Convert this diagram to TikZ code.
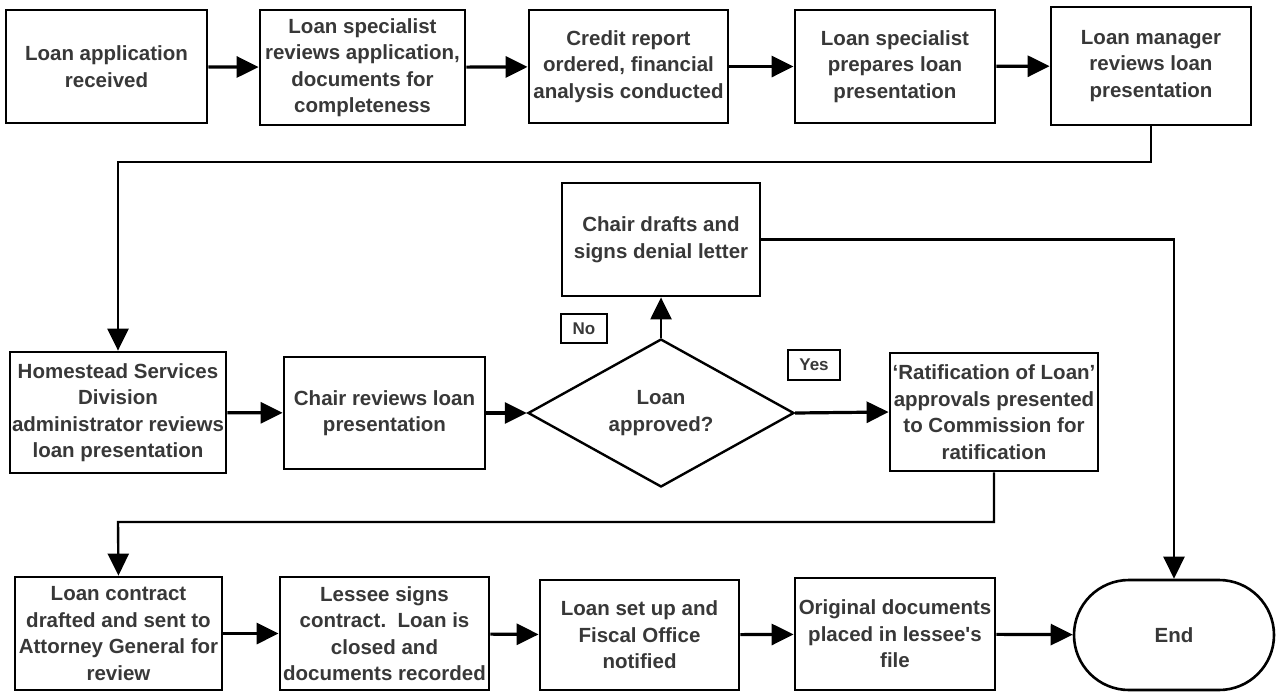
\documentclass[tikz,border=0pt]{standalone}
\usepackage{fontspec}
\setmainfont{Liberation Sans}
\usepackage{tikz}
\usetikzlibrary{shapes.geometric, shapes.misc, arrows.meta, calc, positioning}
\definecolor{textgray}{HTML}{383838}
\tikzstyle{block} = [rectangle, line width=2.8pt, draw=black, text=textgray, align=center, inner sep=0pt, font=\bfseries\fontsize{20.5}{26.5}\selectfont]
\tikzstyle{decision} = [diamond, aspect=1.8, line width=2.4pt, draw=black, text=textgray, align=center, inner sep=0pt, font=\bfseries\fontsize{20.5}{26.5}\selectfont]
\tikzstyle{terminal} = [rounded rectangle, line width=2.6pt, draw=black, text=textgray, align=center, inner sep=0pt, font=\bfseries\fontsize{20.5}{26.5}\selectfont]
\tikzstyle{tag} = [rectangle, line width=2.2pt, draw=black, text=textgray, inner sep=0pt, font=\bfseries\fontsize{17}{20}\selectfont]
\tikzstyle{arrow} = [line width=3.2pt, -{Triangle[length=22pt, width=21pt]}]
\tikzstyle{route} = [line width=2.4pt, -{Triangle[length=22pt, width=21pt]}]

\begin{document}
\begin{tikzpicture}[x=1pt, y=-1pt]
	\useasboundingbox (0,0) rectangle (1277,691);
	\node (Application) [block, minimum width=201pt, minimum height=113pt] at (106.5,66.5) {Loan application\\received};
	\node (SpecialistReview) [block, minimum width=205pt, minimum height=115pt] at (362.5,67.5) {Loan specialist\\reviews application,\\documents for\\completeness};
	\node (CreditReport) [block, minimum width=199pt, minimum height=113pt] at (628.5,66.5) {Credit report\\ordered, financial\\analysis conducted};
	\node (PresentationPrep) [block, minimum width=200pt, minimum height=113pt] at (895,66.5) {Loan specialist\\prepares loan\\presentation};
	\node (ManagerReview) [block, minimum width=200pt, minimum height=118pt] at (1151,66) {Loan manager\\reviews loan\\presentation};
	\node (DivisionReview) [block, minimum width=216pt, minimum height=121pt] at (118,412.5) {Homestead Services\\Division\\administrator reviews\\loan presentation};
	\node (ChairReview) [block, minimum width=201pt, minimum height=112pt] at (384.5,413) {Chair reviews loan\\presentation};
	\node (Approved) [decision, minimum width=266pt, minimum height=148pt] at (661,413) {Loan\\approved?};
	\node (DenialLetter) [block, minimum width=198pt, minimum height=113pt] at (661,239.5) {Chair drafts and\\signs denial letter};
	\node (NoTag) [tag, minimum width=46pt, minimum height=29pt] at (584,328.5) {No};
	\node (YesTag) [tag, minimum width=52pt, minimum height=30pt] at (814,365) {Yes};
	\node (Ratification) [block, minimum width=208pt, minimum height=118pt] at (994,412) {`Ratification of Loan'\\approvals presented\\to Commission for\\ratification};
	\node (Contract) [block, minimum width=207pt, minimum height=113pt] at (118.5,633.5) {Loan contract\\drafted and sent to\\Attorney General for\\review};
	\node (Closing) [block, minimum width=209pt, minimum height=113pt] at (384.5,633.5) {Lessee signs\\contract.\ \ Loan is\\closed and\\documents recorded};
	\node (FiscalSetup) [block, minimum width=199pt, minimum height=110pt] at (639.5,635) {Loan set up and\\Fiscal Office\\notified};
	\node (FileDocs) [block, minimum width=200pt, minimum height=112pt] at (895,634) {Original documents\\placed in lessee\textquotesingle s\\file};
	\node (End) [terminal, minimum width=200pt, minimum height=110pt] at (1174,635) {End};
	\coordinate (TurnTop) at (118,162);
	\coordinate (TurnBottom) at (118,522);
	\draw [arrow] (Application) -- (SpecialistReview);
	\draw [arrow] (SpecialistReview) -- (CreditReport);
	\draw [arrow] (CreditReport) -- (PresentationPrep);
	\draw [arrow] (PresentationPrep) -- (ManagerReview);
	\draw [route] (ManagerReview.south) |- (TurnTop) -- (DivisionReview.north);
	\draw [arrow] (DivisionReview) -- (ChairReview);
	\draw [arrow] (ChairReview) -- (Approved.west);
	\draw [route] (Approved.north) -- (DenialLetter.south);
	\draw [arrow] (Approved.east) -- (Ratification.west);
	\draw [route] (DenialLetter.east) -| (End.north);
	\draw [route] (Ratification.south) |- (TurnBottom) -- (Contract.north);
	\draw [arrow] (Contract) -- (Closing);
	\draw [arrow] (Closing) -- (FiscalSetup);
	\draw [arrow] (FiscalSetup) -- (FileDocs);
	\draw [arrow] (FileDocs) -- (End);
\end{tikzpicture}
\end{document}
